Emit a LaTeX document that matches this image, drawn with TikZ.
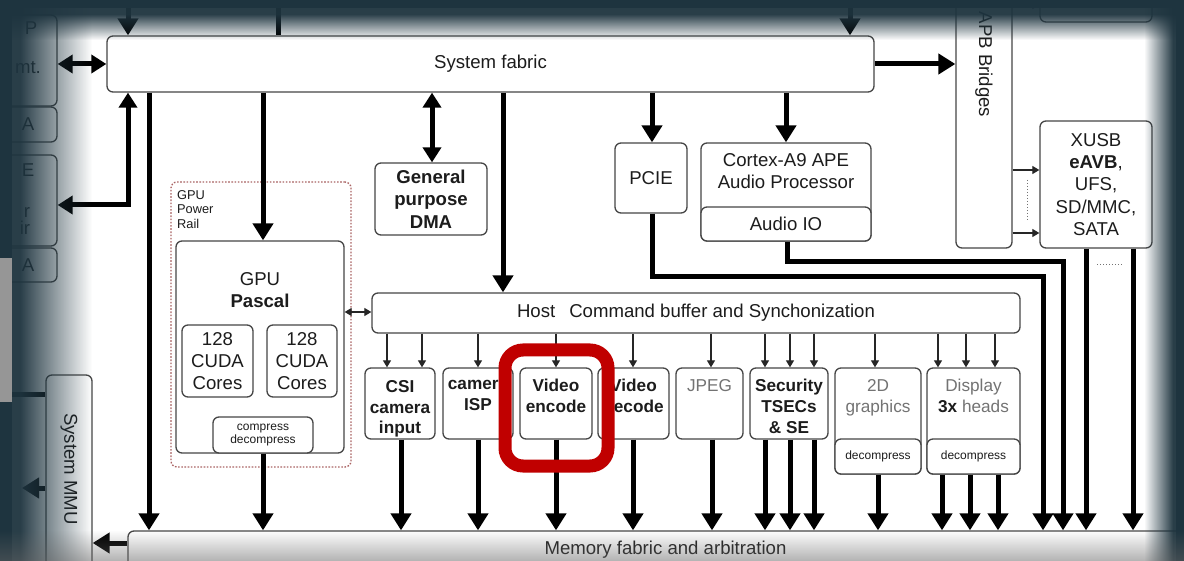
\documentclass[tikz,border=0pt]{standalone}
\usepackage{fontspec}
\setmainfont{Liberation Sans}
\usetikzlibrary{arrows.meta}
\definecolor{dk}{RGB}{30,52,63}
\definecolor{boxc}{RGB}{70,70,70}
\definecolor{txt}{RGB}{28,28,28}
\definecolor{gtxt}{RGB}{115,115,115}
\definecolor{hl}{RGB}{192,0,0}
\definecolor{rail}{RGB}{170,100,100}
\definecolor{midg}{RGB}{150,150,150}
\tikzset{
 bx/.style={draw=boxc, line width=1.3pt, rounded corners=6pt, fill=white, inner sep=0pt},
 tx/.style={inner sep=0pt, align=center, text=txt, font=\fontsize{18.6}{22.3}\selectfont},
 stx/.style={inner sep=0pt, align=center, text=txt, font=\fontsize{17.2}{20.8}\selectfont},
 smx/.style={inner sep=0pt, align=center, text=txt, font=\fontsize{12}{12.8}\selectfont},
 thk/.style={line width=5pt, draw=black, -{Triangle[length=17pt,width=20pt]}},
 thkd/.style={line width=5pt, draw=black, {Triangle[length=15pt,width=18pt]}-{Triangle[length=15pt,width=18pt]}},
 thn/.style={line width=1.2pt, draw=black!85, -{Triangle[length=7pt,width=8pt]}},
 thnd/.style={line width=1.2pt, draw=black!85, {Triangle[length=7pt,width=8pt]}-{Triangle[length=7pt,width=8pt]}},
}
\begin{document}
\begin{tikzpicture}[x=1pt,y=-1pt]
\useasboundingbox (0,0) rectangle (1184,561);
\clip (0,0) rectangle (1184,561);
\fill[white] (0,0) rectangle (1184,561);

% partial boxes at the left edge
\node[bx, minimum width=99pt, minimum height=91pt] (b1) at (7.5,60.5) {};
\node[bx, minimum width=99pt, minimum height=35pt] (b2) at (7.5,124.5) {};
\node[bx, minimum width=99pt, minimum height=91pt] (b3) at (7.5,200.5) {};
\node[bx, minimum width=99pt, minimum height=34pt] (b4) at (7.5,265) {};
\node[tx] (b1p) at (31,28) {P};
\node[tx] (b1t) at (28,68) {mt.};
\node[tx] (b2t) at (28,124) {A};
\node[tx] (b3e) at (28,170) {E};
\node[tx] (b3r) at (27,212) {r};
\node[tx] (b3i) at (25,228) {ir};
\node[tx] (b4t) at (28,265) {A};

% main boxes
\node[bx, tx, minimum width=767pt, minimum height=56pt] (sysfab) at (490.5,64) {System fabric};
\node[bx, minimum width=112pt, minimum height=52pt] (topr) at (1096,-4) {};
\node[bx, minimum width=56pt, minimum height=278pt] (apb) at (984,109) {};
\node[tx, rotate=-90] (apbT) at (984,64.5) {APB Bridges};
\node[bx, minimum width=112pt, minimum height=127pt] (xusb) at (1096,184.5) {};
\node[tx, anchor=north] (xusbT) at (1096,133) {XUSB\\\textbf{eAVB},\\UFS,\\SD/MMC,\\SATA};
\node[bx, minimum width=112pt, minimum height=72pt] (dma) at (431,199) {};
\node[tx, anchor=north, font=\fontsize{18.6}{22.3}\selectfont\bfseries] (dmaT) at (431,170) {General\\purpose\\DMA};
\node[bx, tx, minimum width=72pt, minimum height=70pt] (pcie) at (651,178) {PCIE};
\node[bx, minimum width=170pt, minimum height=98pt] (cortex) at (786,192) {};
\node[tx, anchor=north] (cortexT) at (786,153) {Cortex-A9 APE\\Audio Processor};
\node[bx, tx, minimum width=170pt, minimum height=34pt] (audio) at (786,224) {Audio IO};

% GPU
\node[draw=rail, line width=1.3pt, dash pattern=on 1.6pt off 1.6pt, rounded corners=6pt, minimum width=180pt, minimum height=285pt] (rail) at (261,324.5) {};
\node[inner sep=0pt, align=left, anchor=north west, text=txt, font=\fontsize{12.8}{14.5}\selectfont] (railT) at (177,190) {GPU\\Power\\Rail};
\node[bx, minimum width=168pt, minimum height=212pt] (gpu) at (260,347) {};
\node[tx, anchor=north] (gpuT) at (260,272) {GPU\\\textbf{Pascal}};
\node[bx, minimum width=71pt, minimum height=72pt] (cuda1) at (217.5,361) {};
\node[bx, minimum width=70pt, minimum height=72pt] (cuda2) at (302,361) {};
\node[tx, anchor=north] (cuda1T) at (217.5,332) {128\\CUDA\\Cores};
\node[tx, anchor=north] (cuda2T) at (302,332) {128\\CUDA\\Cores};
\node[bx, smx, minimum width=100pt, minimum height=36pt] (comp) at (263,435) {compress\\decompress};

% host and engines
\node[bx, tx, minimum width=648pt, minimum height=40pt] (host) at (696,313) {Host\hspace{14pt}Command buffer and Synchonization};
\node[bx, minimum width=70pt, minimum height=71pt] (csi) at (400,403.5) {};
\node[bx, minimum width=70pt, minimum height=71pt] (isp) at (478,403.5) {};
\node[bx, minimum width=72pt, minimum height=71pt] (venc) at (556,403.5) {};
\node[bx, minimum width=71pt, minimum height=71pt] (vdec) at (633.5,403.5) {};
\node[bx, minimum width=67pt, minimum height=71pt] (jpeg) at (709.5,403.5) {};
\node[bx, minimum width=78pt, minimum height=71pt] (sec) at (789,403.5) {};
\node[bx, minimum width=86pt, minimum height=106pt] (g2d) at (878,421) {};
\node[bx, smx, minimum width=86pt, minimum height=35pt] (g2db) at (878,456.5) {decompress};
\node[bx, minimum width=93pt, minimum height=106pt] (disp) at (973.5,421) {};
\node[bx, smx, minimum width=93pt, minimum height=35pt] (dispb) at (973.5,456.5) {decompress};
\node[stx, anchor=north, font=\fontsize{17.2}{20.8}\selectfont\bfseries] (csiT) at (400,380) {CSI\\camera\\input};
\node[stx, anchor=north, font=\fontsize{17.2}{20.8}\selectfont\bfseries] (ispT) at (478,380) {camera\\ISP};
\node[stx, anchor=north, font=\fontsize{17.2}{20.8}\selectfont\bfseries] (vencT) at (556,379) {Video\\encode};
\node[stx, anchor=north, font=\fontsize{17.2}{20.8}\selectfont\bfseries] (vdecT) at (633.5,379) {Video\\decode};
\node[stx, anchor=north, text=gtxt] (jpegT) at (709.5,379) {JPEG};
\node[stx, anchor=north, font=\fontsize{17.2}{20.8}\selectfont\bfseries] (secT) at (789,379) {Security\\TSECs\\\& SE};
\node[stx, anchor=north, text=gtxt] (g2dT) at (878,379) {2D\\graphics};
\node[stx, anchor=north, text=gtxt] (dispT) at (973.5,379) {Display\\\textcolor{txt}{\textbf{3x}} heads};

% memory fabric and MMU
\node[bx, tx, minimum width=1075pt, minimum height=37pt] (memfab) at (665.5,549.5) {Memory fabric and arbitration};
\node[bx, minimum width=46pt, minimum height=200pt] (mmu) at (69,475) {};
\node[tx, rotate=-90] (mmuT) at (69,469) {System MMU};

% thick connectors
\draw[thk] (128,-10) -- (128,0 |- sysfab.north);
\draw[line width=5pt] (278,-10) -- (278,0 |- sysfab.north);
\draw[thk] (850,-10) -- (850,0 |- sysfab.north);
\draw[thkd] (b1.east |- 0,64) -- (sysfab.west |- 0,64);
\draw[thk] (sysfab.east) -- (apb.west |- sysfab.east);
\draw[thkd] (128,0 |- sysfab.south) -- (128,205) -- (b3.east |- 0,205);
\draw[thk] (149,0 |- sysfab.south) -- (149,0 |- memfab.north);
\draw[thk] (263,0 |- sysfab.south) -- (263,0 |- gpu.north);
\draw[thkd] (432,0 |- sysfab.south) -- (432,0 |- dma.north);
\draw[thk] (503,0 |- sysfab.south) -- (503,0 |- host.north);
\draw[thk] (652,0 |- sysfab.south) -- (652,0 |- pcie.north);
\draw[thk] (786,0 |- sysfab.south) -- (786,0 |- cortex.north);
\draw[thk] (652,0 |- pcie.south) -- (652,277) -- (1043,277) -- (1043,0 |- memfab.north);
\draw[thk] (787,0 |- audio.south) -- (787,262) -- (1063,262) -- (1063,0 |- memfab.north);
\draw[thk] (1086,0 |- xusb.south) -- (1086,0 |- memfab.north);
\draw[thk] (1133,0 |- xusb.south) -- (1133,0 |- memfab.north);
\draw[thk] (263,0 |- comp.south) -- (263,0 |- memfab.north);
\foreach \x/\n in {401/csi,478/isp,556/venc,633/vdec,712/jpeg,765/sec,790/sec,814/sec,878/g2db,942/dispb,970/dispb,998/dispb}
  \draw[thk] (\x,0 |- \n.south) -- (\x,0 |- memfab.north);
\draw[thk] (memfab.west |- 0,543) -- (mmu.east |- 0,543);
\draw[line width=5pt] (mmu.west |- 0,395) -- (-5,395);
\draw[thk] (mmu.west |- 0,488) -- (22,488);

% thin connectors
\foreach \x/\n in {387/csi,422/csi,478/isp,556/venc,633/vdec,711/jpeg,765/sec,790/sec,814/sec,875/g2d,938/disp,966/disp,995/disp}
  \draw[thn] (\x,0 |- host.south) -- (\x,0 |- \n.north);
\draw[thnd] (gpu.east |- 0,312) -- (host.west |- 0,312);
\draw[thn] (apb.east |- 0,170) -- (xusb.west |- 0,170);
\draw[thn] (apb.east |- 0,233) -- (xusb.west |- 0,233);
\draw[thn] (apb.east |- 0,5) -- (topr.west |- 0,5);
\draw[dotted, line width=1pt, black!55] (1027,180) -- (1027,220);
\draw[dotted, line width=1pt, black!55] (1097,265) -- (1122,265);

% vignette of the screenshot, drawn as strips of fixed opacity
\fill[dk] (0,0) rectangle (12,561);
\fill[dk] (0,0) rectangle (1184,8);
\fill[dk] (1176,0) rectangle (1184,561);
\foreach \i in {12,...,93} {
  \pgfmathsetmacro\op{max(0,min(0.95,0.95*(92-\i)/72))}
  \fill[dk, opacity=\op] (\i,0) rectangle (\i+1,561);
}
\foreach \j in {8,...,40} {
  \pgfmathsetmacro\op{max(0,min(0.95,0.95*(40-\j)/26))}
  \fill[dk, opacity=\op] (0,\j) rectangle (1184,\j+1);
}
\foreach \i in {1144,...,1175} {
  \pgfmathsetmacro\op{max(0,min(0.95,0.95*(\i-1144)/29))}
  \fill[dk, opacity=\op] (\i,0) rectangle (\i+1,561);
}
\foreach \j in {530,...,560} {
  \pgfmathsetmacro\op{0.5*(\j-530)/31}
  \fill[black!60, opacity=\op] (0,\j) rectangle (1184,\j+1);
}
\fill[midg] (0,258) rectangle (12,402);

% red highlight
\node[draw=hl, line width=13pt, rounded corners=18pt, minimum width=103pt, minimum height=116pt] (hlbox) at (556.5,408) {};
\end{tikzpicture}
\end{document}
